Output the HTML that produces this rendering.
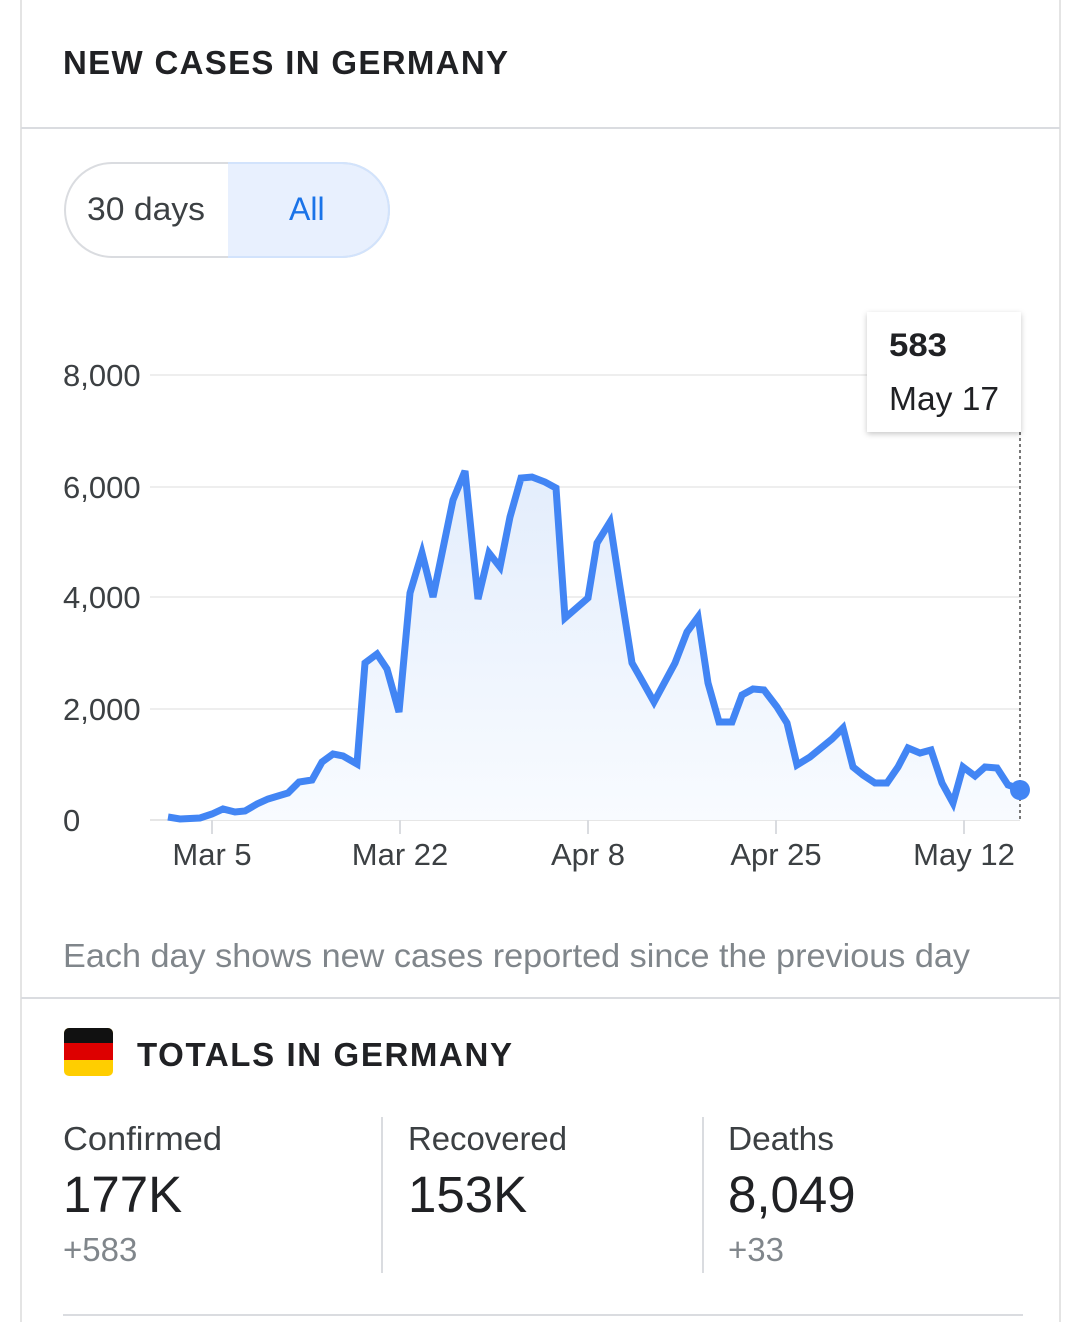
<!DOCTYPE html>
<html><head><meta charset="utf-8"><style>
html,body{margin:0;padding:0;background:#fff;width:1079px;height:1322px;overflow:hidden}
svg text{font-family:"Liberation Sans",Arial,sans-serif}
</style></head><body>
<svg width="1079" height="1322" xmlns="http://www.w3.org/2000/svg">
<defs>
<linearGradient id="g" x1="0" y1="0" x2="0" y2="1"><stop offset="0" stop-color="#e3edfc"/><stop offset="1" stop-color="#f8fbff"/></linearGradient>
<filter id="sh" x="-20%" y="-20%" width="140%" height="140%"><feDropShadow dx="0" dy="2" stdDeviation="3" flood-color="#000" flood-opacity="0.22"/></filter>
</defs>
<rect x="0" y="0" width="1079" height="1322" fill="#fff"/>
<rect x="21" y="-20" width="1039" height="1400" rx="16" fill="#fff" stroke="#e4e4e4" stroke-width="2"/>
<text x="63" y="74" font-size="33" font-weight="bold" fill="#202124" textLength="445" lengthAdjust="spacing">NEW CASES IN GERMANY</text>
<line x1="21" y1="128" x2="1060" y2="128" stroke="#dadce0" stroke-width="2"/>
<path d="M228 163 H342 A47 47 0 0 1 342 257 H228 Z" fill="#e8f0fe"/>
<rect x="65" y="163" width="324" height="94" rx="47" fill="none" stroke="#dadce0" stroke-width="2"/>
<path d="M228 163 H342 A47 47 0 0 1 342 257 H228" fill="none" stroke="#d2e3fc" stroke-width="2"/>
<text x="87" y="220" font-size="32" fill="#3c4043" textLength="118" lengthAdjust="spacingAndGlyphs">30 days</text>
<text x="289" y="220" font-size="32" fill="#1a73e8">All</text>
<g stroke="#eeeeee" stroke-width="2">
<line x1="150" y1="375" x2="1020" y2="375"/><line x1="150" y1="487" x2="1020" y2="487"/>
<line x1="150" y1="597" x2="1020" y2="597"/><line x1="150" y1="709" x2="1020" y2="709"/>
</g>
<line x1="150" y1="820" x2="1020" y2="820" stroke="#e6e6e6" stroke-width="2"/>
<g stroke="#dadce0" stroke-width="2"><line x1="212" y1="820" x2="212" y2="834"/><line x1="400" y1="820" x2="400" y2="834"/><line x1="588" y1="820" x2="588" y2="834"/><line x1="776" y1="820" x2="776" y2="834"/><line x1="964" y1="820" x2="964" y2="834"/></g>
<g font-size="31" fill="#3c4043">
<text x="63" y="386">8,000</text><text x="63" y="498">6,000</text><text x="63" y="608">4,000</text><text x="63" y="720">2,000</text><text x="63" y="831">0</text>
</g>
<g font-size="31" fill="#3c4043" text-anchor="middle">
<text x="212" y="865">Mar 5</text><text x="400" y="865">Mar 22</text><text x="588" y="865">Apr 8</text><text x="776" y="865">Apr 25</text><text x="964" y="865">May 12</text>
</g>
<path d="M168 817 L180 819 L200 818 L212 814 L223 809 L235 812 L245 811 L257 804 L268 799 L278 796 L288 793 L299 782 L312 780 L322 762 L333 754 L343 756 L357 764 L365 663 L377 654 L387 669 L399 712 L410 593 L422 553 L433 597 L453 500 L465 471 L478 599 L489 553 L500 567 L510 517 L521 478 L532 477 L545 482 L556 488 L565 618 L588 598 L597 543 L610 522 L620 587 L632 663 L640 677 L654 702 L675 663 L687 632 L698 617 L708 683 L719 722 L732 722 L742 695 L753 689 L764 690 L777 707 L787 723 L797 765 L810 757 L832 739 L843 728 L853 767 L863 775 L875 783 L887 783 L898 767 L908 748 L920 753 L931 750 L942 783 L953 803 L963 767 L975 776 L985 767 L997 768 L1008 785 L1020 789 L1020 820 L168 820 Z" fill="url(#g)"/>
<polyline fill="none" stroke="#4285f4" stroke-width="7" stroke-linejoin="miter" points="168,817 180,819 200,818 212,814 223,809 235,812 245,811 257,804 268,799 278,796 288,793 299,782 312,780 322,762 333,754 343,756 357,764 365,663 377,654 387,669 399,712 410,593 422,553 433,597 453,500 465,471 478,599 489,553 500,567 510,517 521,478 532,477 545,482 556,488 565,618 588,598 597,543 610,522 620,587 632,663 640,677 654,702 675,663 687,632 698,617 708,683 719,722 732,722 742,695 753,689 764,690 777,707 787,723 797,765 810,757 832,739 843,728 853,767 863,775 875,783 887,783 898,767 908,748 920,753 931,750 942,783 953,803 963,767 975,776 985,767 997,768 1008,785 1020,789"/>
<line x1="1020" y1="432" x2="1020" y2="820" stroke="#777" stroke-width="2" stroke-dasharray="3,3"/>
<circle cx="1020" cy="790" r="10" fill="#4285f4"/>
<rect x="867" y="312" width="154" height="120" fill="#fff" filter="url(#sh)"/>
<text x="889" y="356" font-size="32" font-weight="bold" fill="#202124" textLength="58" lengthAdjust="spacingAndGlyphs">583</text>
<text x="889" y="410" font-size="33" fill="#202124" textLength="110" lengthAdjust="spacingAndGlyphs">May 17</text>
<text x="63" y="967" font-size="33" fill="#80868b" textLength="907" lengthAdjust="spacingAndGlyphs">Each day shows new cases reported since the previous day</text>
<line x1="21" y1="998" x2="1060" y2="998" stroke="#dadce0" stroke-width="2"/>
<g>
<rect x="64" y="1028" width="49" height="48" rx="5" fill="#ffce00"/>
<path d="M64 1043 V1033 A5 5 0 0 1 69 1028 H108 A5 5 0 0 1 113 1033 V1043 Z" fill="#111"/>
<rect x="64" y="1043" width="49" height="17" fill="#dd0000"/>
</g>
<text x="137" y="1066" font-size="33" font-weight="bold" fill="#202124" textLength="375" lengthAdjust="spacing">TOTALS IN GERMANY</text>
<line x1="382" y1="1117" x2="382" y2="1273" stroke="#dadce0" stroke-width="2"/>
<line x1="703" y1="1117" x2="703" y2="1273" stroke="#dadce0" stroke-width="2"/>
<g font-size="33" fill="#3c4043">
<text x="63" y="1150" textLength="159" lengthAdjust="spacingAndGlyphs">Confirmed</text><text x="408" y="1150" textLength="159" lengthAdjust="spacingAndGlyphs">Recovered</text><text x="728" y="1150" textLength="106" lengthAdjust="spacingAndGlyphs">Deaths</text>
</g>
<g font-size="51" fill="#202124">
<text x="63" y="1212">177K</text><text x="408" y="1212">153K</text><text x="728" y="1212">8,049</text>
</g>
<g font-size="33" fill="#80868b">
<text x="63" y="1261">+583</text><text x="728" y="1261">+33</text>
</g>
<line x1="63" y1="1315" x2="1023" y2="1315" stroke="#dadce0" stroke-width="2"/>
</svg>
</body></html>
